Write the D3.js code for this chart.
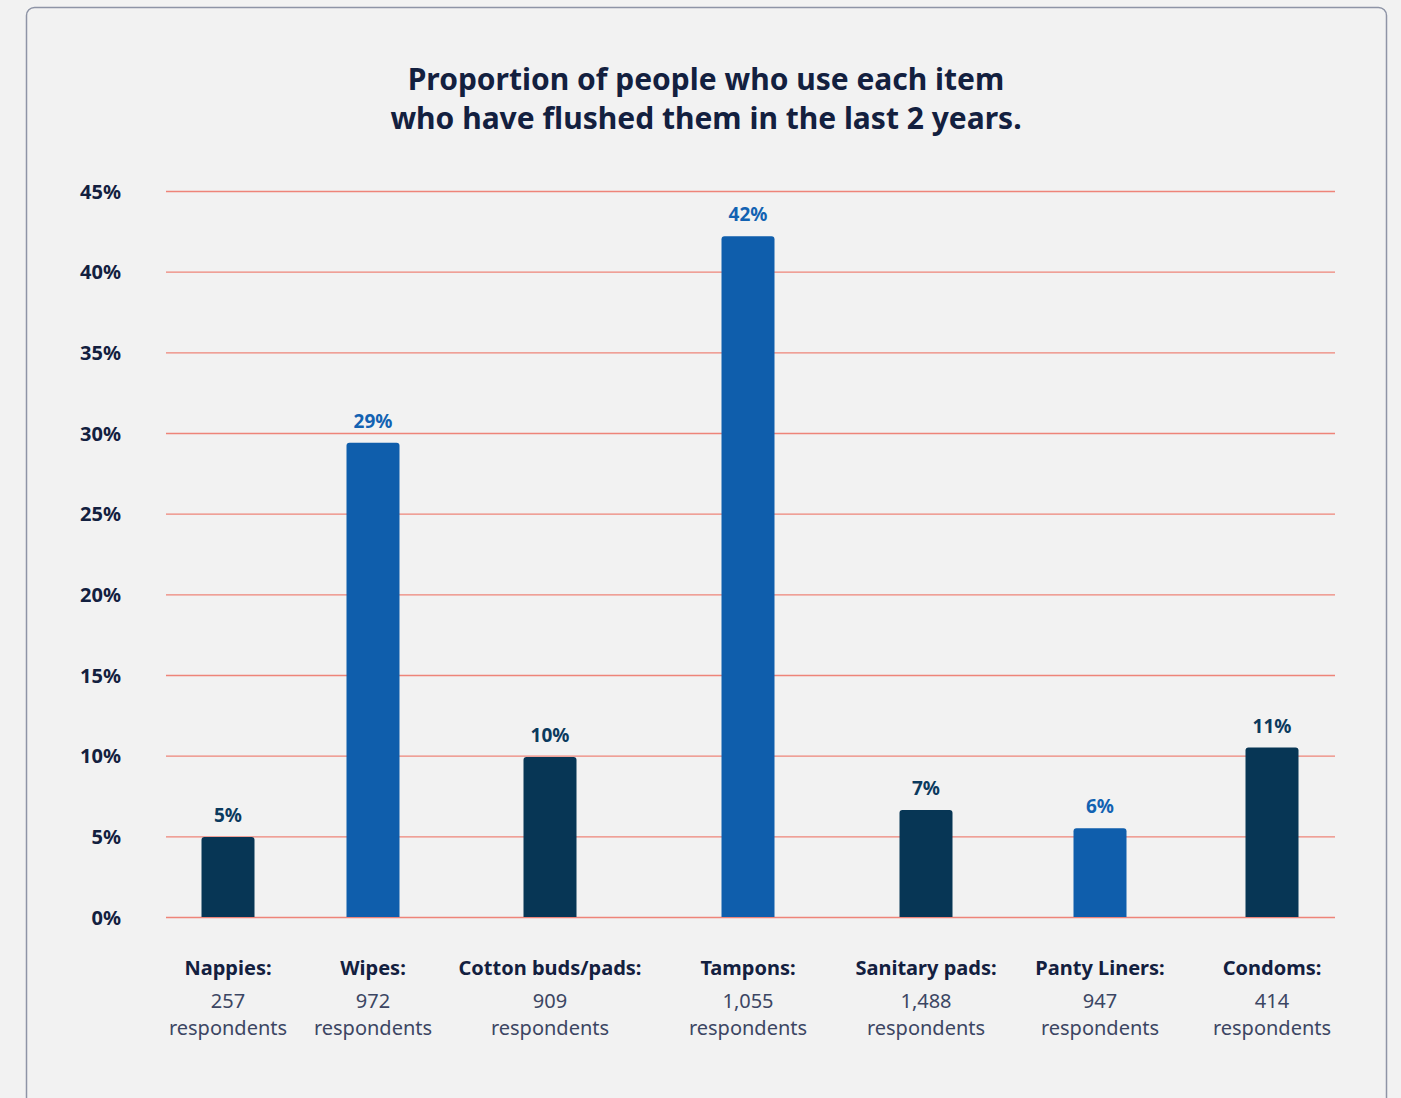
<!DOCTYPE html>
<html>
<head>
<meta charset="utf-8">
<script src="https://cdn.jsdelivr.net/npm/d3@7/dist/d3.min.js"></script>
<style>
  html, body { margin: 0; padding: 0; background: #f2f2f2; }
  svg { display: block; }
  text { font-family: "Noto Sans", "Open Sans", sans-serif; }
</style>
</head>
<body>
<svg id="chart" width="1401" height="1098"></svg>
<script>
// ---- data ----
const titleLines = ["Proportion of people who use each item", "who have flushed them in the last 2 years."];
const categories = ["Nappies:", "Wipes:", "Cotton buds/pads:", "Tampons:", "Sanitary pads:", "Panty Liners:", "Condoms:"];
const respondents = ["257", "972", "909", "1,055", "1,488", "947", "414"];
const values = [4.96, 29.4, 9.92, 42.2, 6.63, 5.5, 10.5];
const yTicks = [0, 5, 10, 15, 20, 25, 30, 35, 40, 45];

// ---- layout / style ----
const colWeights = [124, 166, 188, 208, 148, 200, 144]; // relative column widths
const colors = { dark: "#073655", blue: "#0f5eac", navy: "#13203f", grid: "#ee8479", sub: "#3c4663" };
const plot = { left: 166, right: 1335, top: 191, bottom: 917 };

const svg = d3.select("#chart");

// card
svg.append("rect")
  .attr("x", 26.5).attr("y", 7.5).attr("width", 1360).attr("height", 1200)
  .attr("rx", 8).attr("fill", "#f2f2f2").attr("stroke", "#8e94a6").attr("stroke-width", 1.5);

// title
svg.append("g").selectAll("text").data(titleLines).join("text")
  .attr("x", 706).attr("y", (d, i) => 90 + i * 39)
  .attr("text-anchor", "middle")
  .attr("font-size", 30).attr("font-weight", 700).attr("fill", colors.navy)
  .text(d => d);

// scales
const y = d3.scaleLinear().domain([0, 45]).range([plot.bottom, plot.top]);
const cum = [0];
colWeights.forEach(w => cum.push(cum[cum.length - 1] + w));
const xw = d3.scaleLinear().domain([0, cum[cum.length - 1]]).range([plot.left, plot.left + 1178]);
const x = d3.scaleOrdinal().domain(categories).range(categories.map((c, i) => xw((cum[i] + cum[i + 1]) / 2)));
const barW = 53;

// grid lines (via axis)
const grid = d3.axisRight(y).tickValues(yTicks).tickSize(plot.right - plot.left).tickFormat("");
const gg = svg.append("g").attr("transform", `translate(${plot.left},0)`).call(grid);
gg.select(".domain").remove();
gg.selectAll(".tick line").attr("stroke", colors.grid).attr("stroke-width", 1.4);

// y labels
const yAxis = d3.axisLeft(y).tickValues(yTicks).tickFormat(d => d + "%").tickSize(0).tickPadding(0);
const gy = svg.append("g").attr("transform", `translate(121,0)`).call(yAxis);
gy.select(".domain").remove();
gy.selectAll(".tick line").remove();
gy.selectAll("text")
  .attr("font-family", "Noto Sans").attr("font-size", 20).attr("font-weight", 700)
  .attr("fill", colors.navy).attr("dy", "0.35em");

// bars
const barColor = i => (i % 2 === 0 ? colors.dark : colors.blue);
svg.append("g").selectAll("path").data(values).join("path")
  .attr("d", (d, i) => {
    const x0 = x(categories[i]) - barW / 2, y0 = y(d), h = y(0) - y(d), r = 3;
    return `M${x0},${y0 + h} V${y0 + r} Q${x0},${y0} ${x0 + r},${y0} H${x0 + barW - r} Q${x0 + barW},${y0} ${x0 + barW},${y0 + r} V${y0 + h} Z`;
  })
  .attr("fill", (d, i) => barColor(i));

// value labels
svg.append("g").selectAll("text").data(values).join("text")
  .attr("x", (d, i) => x(categories[i])).attr("y", d => y(d) - 15)
  .attr("text-anchor", "middle").attr("font-size", 19).attr("font-weight", 700)
  .attr("fill", (d, i) => i % 2 === 0 ? "#0b3a5e" : "#1262b2")
  .text(d => Math.round(d) + "%");

// x labels
const gx = svg.append("g").selectAll("g").data(categories).join("g")
  .attr("transform", d => `translate(${x(d)},0)`);
gx.append("text").attr("y", 975).attr("text-anchor", "middle")
  .attr("font-size", 20).attr("font-weight", 700).attr("fill", colors.navy).text(d => d);
gx.append("text").attr("y", 1008).attr("text-anchor", "middle")
  .attr("font-size", 20).attr("fill", colors.sub).text((d, i) => respondents[i]);
gx.append("text").attr("y", 1035).attr("text-anchor", "middle")
  .attr("font-size", 20).attr("fill", colors.sub).text("respondents");
</script>
</body>
</html>
